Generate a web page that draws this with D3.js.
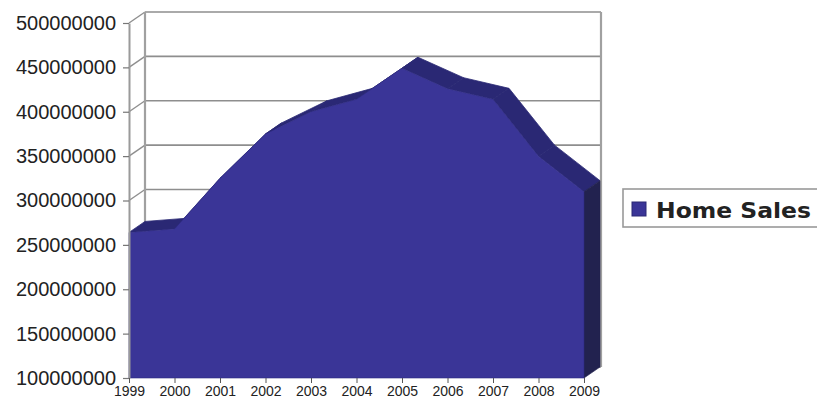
<!DOCTYPE html>
<html>
<head>
<meta charset="utf-8">
<script src="https://cdn.jsdelivr.net/npm/d3@7"></script>
<style>
  html, body { margin: 0; padding: 0; background: #fff; }
  svg { display: block; }
</style>
</head>
<body>
<svg id="chart" width="817" height="407"></svg>
<script>
// ---- data ----
const years = ["1999","2000","2001","2002","2003","2004","2005","2006","2007","2008","2009"];
const homeSales = [264e6, 268e6, 325e6, 375e6, 400e6, 414e6, 449e6, 426e6, 414e6, 350e6, 310e6];
const yTicks = [100e6, 150e6, 200e6, 250e6, 300e6, 350e6, 400e6, 450e6, 500e6];
const seriesName = "Home Sales";

// ---- layout ----
const svg = d3.select("#chart");
const x = d3.scalePoint().domain(years).range([129, 584]);
const y = d3.scaleLinear().domain([100e6, 500e6]).range([378, 23]);
const DX = 16, DY = -11;          // 3-D depth offset
const frontCol = "#3a3597", topCol = "#2a2874", sideCol = "#22224f";
const gridCol = "#8e8e8e";

const data = years.map((yr, i) => ({ yr, v: homeSales[i] }));

// back wall gridlines
const g = svg.append("g");
yTicks.forEach(t => {
  g.append("line")
    .attr("x1", x.range()[0] + DX).attr("x2", x.range()[1] + DX + 1)
    .attr("y1", y(t) + DY).attr("y2", y(t) + DY)
    .attr("stroke", gridCol).attr("stroke-width", 1.6);
  // side wall diagonals
  g.append("line")
    .attr("x1", x.range()[0]).attr("y1", y(t))
    .attr("x2", x.range()[0] + DX).attr("y2", y(t) + DY)
    .attr("stroke", gridCol).attr("stroke-width", 1.4);
});
// back wall verticals
[x.range()[0] + DX, x.range()[1] + DX + 1].forEach(xx => {
  g.append("line")
    .attr("x1", xx).attr("x2", xx)
    .attr("y1", y(500e6) + DY).attr("y2", y(100e6) + DY)
    .attr("stroke", "#a0a0a0").attr("stroke-width", 2.2);
});

// top surface strips
const strips = svg.append("g");
for (let i = 0; i < data.length - 1; i++) {
  const a = data[i], b = data[i + 1];
  const pts = [
    [x(a.yr), y(a.v)], [x(b.yr), y(b.v)],
    [x(b.yr) + DX, y(b.v) + DY], [x(a.yr) + DX, y(a.v) + DY]
  ];
  strips.append("path")
    .attr("d", d3.line()(pts) + "Z")
    .attr("fill", topCol).attr("stroke", topCol).attr("stroke-width", 0.8);
}

// right side face
const last = data[data.length - 1];
svg.append("path")
  .attr("d", d3.line()([
    [x(last.yr), y(last.v)], [x(last.yr) + DX, y(last.v) + DY],
    [x(last.yr) + DX, y(100e6) + DY], [x(last.yr), y(100e6)]
  ]) + "Z")
  .attr("fill", sideCol).attr("stroke", sideCol).attr("stroke-width", 0.6);

// front face
const area = d3.area().x(d => x(d.yr)).y0(y(100e6)).y1(d => y(d.v));
svg.append("path").datum(data)
  .attr("d", area)
  .attr("fill", frontCol)
  .attr("stroke", "#2e2a80").attr("stroke-width", 0.6);

// y axis
const yAxis = svg.append("g")
  .attr("transform", `translate(${x.range()[0]},0)`)
  .call(d3.axisLeft(y).tickValues(yTicks).tickFormat(d3.format("d"))
        .tickSize(6).tickSizeOuter(0).tickPadding(7));
yAxis.select(".domain").attr("stroke", "#9a9a9a").attr("stroke-width", 2);
yAxis.selectAll(".tick line").attr("stroke", "#777").attr("stroke-width", 1.2);
yAxis.selectAll("text")
  .attr("font-family", "Liberation Sans, Arial, sans-serif")
  .attr("font-size", 20).attr("fill", "#222");

// x axis
const xAxis = svg.append("g")
  .attr("transform", `translate(0,${y(100e6)})`)
  .call(d3.axisBottom(x).tickSize(5).tickSizeOuter(0).tickPadding(3));
xAxis.select(".domain").remove();
xAxis.selectAll(".tick line").attr("stroke", "#555").attr("stroke-width", 1);
xAxis.selectAll("text")
  .attr("font-family", "Liberation Sans, Arial, sans-serif")
  .attr("font-size", 14).attr("fill", "#222");

// legend
const lg = svg.append("g");
lg.append("rect").attr("x", 623).attr("y", 189).attr("width", 220).attr("height", 38)
  .attr("fill", "#fff").attr("stroke", "#999").attr("stroke-width", 1.6);
lg.append("rect").attr("x", 632).attr("y", 202).attr("width", 14).attr("height", 14)
  .attr("fill", frontCol).attr("stroke", "#2a2874").attr("stroke-width", 1);
lg.append("text").attr("x", 656).attr("y", 218)
  .attr("font-family", "DejaVu Sans, Verdana, sans-serif")
  .attr("font-weight", "bold").attr("font-size", 21)
  .attr("fill", "#222")
  .attr("textLength", 155).attr("lengthAdjust", "spacingAndGlyphs")
  .text(seriesName);
</script>
</body>
</html>
